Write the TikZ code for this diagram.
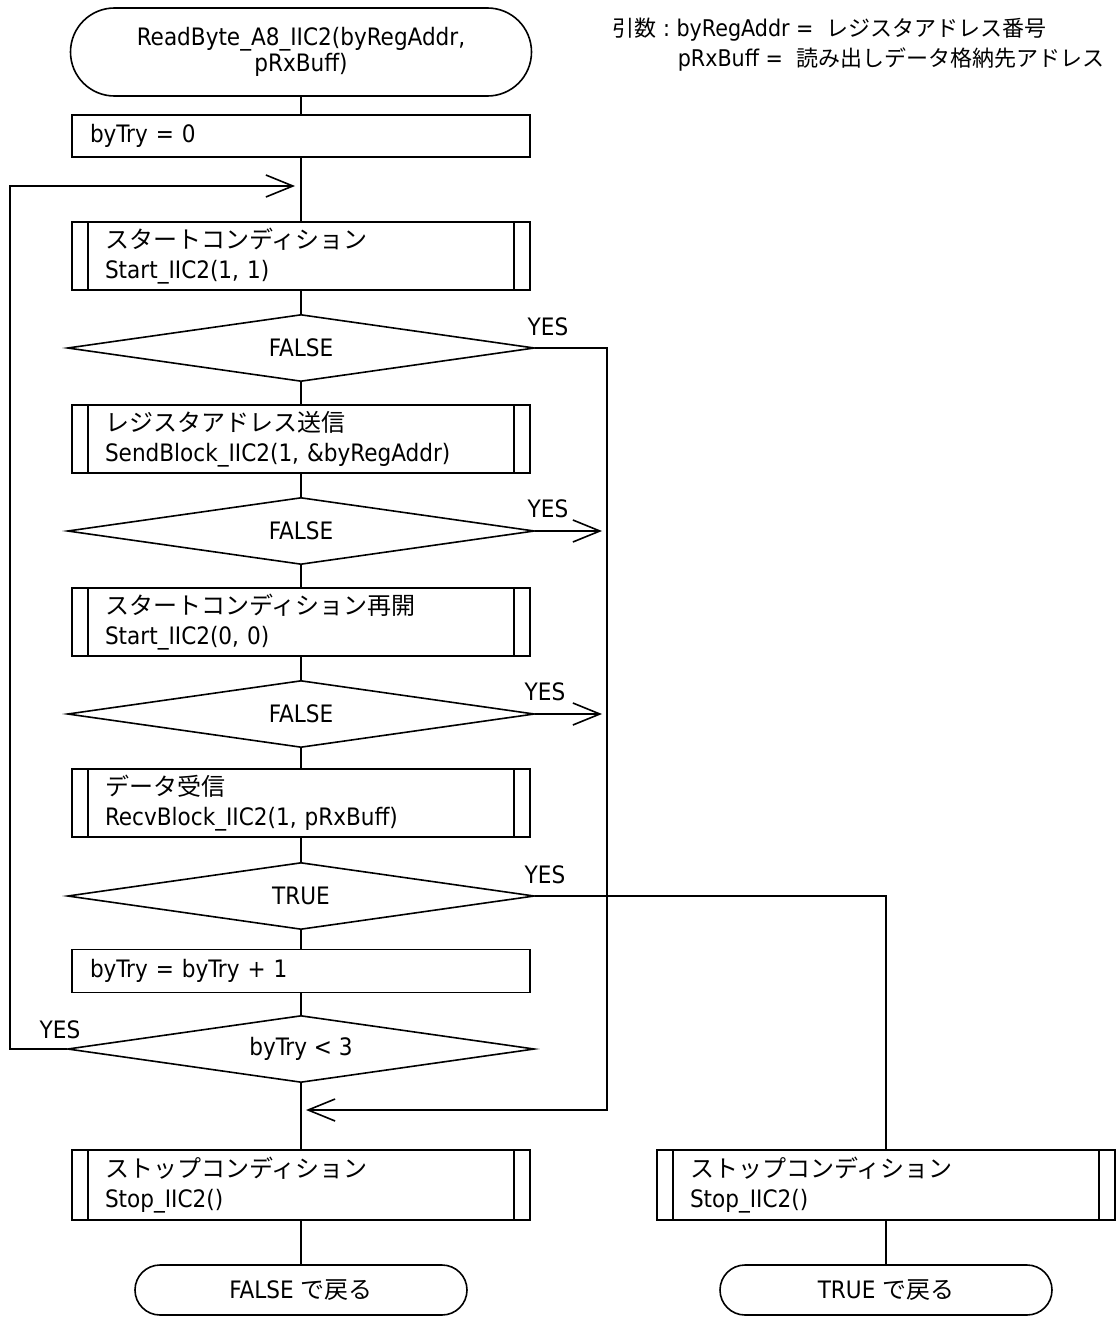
\documentclass[tikz,border=0pt]{standalone}
\usepackage{fontspec}
\setmainfont{DejaVu Sans Condensed}
\newfontfamily\jp{Noto Sans CJK JP}
\usetikzlibrary{shapes.geometric,shapes.misc,arrows.meta}
\newcommand\fsz{\fontsize{24}{26}\selectfont}
\newcommand\fszsub{\fontsize{24}{30}\selectfont}
\newcommand\fszann{\fontsize{23}{27}\selectfont}
\newcommand\annjp{\fontsize{22}{27}\selectfont\jp}
\begin{document}
\begin{tikzpicture}[x=1pt,y=-1pt,line width=1.6pt,
  base/.style={draw,line width=1.6pt,font=\fsz},
  term/.style={base,rounded rectangle,align=center,inner sep=0pt},
  proc/.style={base,rectangle,minimum height=42pt,inner xsep=18pt,inner ysep=0pt,text width=422pt,align=left},
  sub/.style={base,rectangle,minimum height=68pt,inner xsep=33pt,inner ysep=0pt,text width=392pt,align=left,font=\fszsub,
    path picture={\draw[line width=1.6pt] ([xshift=16pt]path picture bounding box.north west) -- ([xshift=16pt]path picture bounding box.south west);
      \draw[line width=1.6pt] ([xshift=-16pt]path picture bounding box.north east) -- ([xshift=-16pt]path picture bounding box.south east);}},
  dec/.style={base,diamond,aspect=8,minimum width=467pt,minimum height=67pt,inner sep=0pt},
  lbl/.style={font=\fsz,inner sep=0pt},
  ann/.style={font=\fszann,inner sep=0pt,anchor=west},
  arr/.style={-{Straight Barb[length=27pt,width=22pt]}}
]
\useasboundingbox (0,0) rectangle (1116,1317);

% annotation
\node[ann] (argA) at (612,30) {{\annjp 引数}\;:\;byRegAddr = \ {\annjp レジスタアドレス番号}};
\node[ann] (argB) at (677,60) {pRxBuff = \ {\annjp 読み出しデータ格納先アドレス}};

% main column
\node[term,minimum width=461pt,minimum height=88pt] (start) at (301,52) {ReadByte\_A8\_IIC2(byRegAddr,\\pRxBuff)};
\node[proc] (b0) at (301,136) {byTry = 0};
\node[sub] (s1) at (301,256) {{\jp スタートコンディション}\\Start\_IIC2(1, 1)};
\node[dec] (d1) at (301,348) {FALSE};
\node[sub] (s2) at (301,439) {{\jp レジスタアドレス送信}\\SendBlock\_IIC2(1, \&byRegAddr)};
\node[dec] (d2) at (301,531) {FALSE};
\node[sub] (s3) at (301,622) {{\jp スタートコンディション再開}\\Start\_IIC2(0, 0)};
\node[dec] (d3) at (301,714) {FALSE};
\node[sub] (s4) at (301,803) {{\jp データ受信}\\RecvBlock\_IIC2(1, pRxBuff)};
\node[dec] (d4) at (301,896) {TRUE};
\node[proc,minimum height=43pt] (inc) at (301,971) {byTry = byTry + 1};
\node[dec] (d5) at (301,1049) {byTry < 3};
\node[sub,minimum height=70pt] (stopL) at (301,1185) {{\jp ストップコンディション}\\Stop\_IIC2()};
\node[term,minimum width=332pt,minimum height=50pt] (endL) at (301,1290) {FALSE {\jp で戻る}};

% right column
\node[sub,minimum height=70pt] (stopR) at (886,1185) {{\jp ストップコンディション}\\Stop\_IIC2()};
\node[term,minimum width=332pt,minimum height=50pt] (endR) at (886,1290) {TRUE {\jp で戻る}};

% helper coordinates
\coordinate (lft) at (10,186);
\coordinate (rgt) at (607,1110);

% main flow
\draw (start) -- (b0);
\draw (b0) -- (s1);
\draw (s1) -- (d1);
\draw (d1) -- (s2);
\draw (s2) -- (d2);
\draw (d2) -- (s3);
\draw (s3) -- (d3);
\draw (d3) -- (s4);
\draw (s4) -- (d4);
\draw (d4) -- (inc);
\draw (inc) -- (d5);
\draw (d5) -- (stopL);
\draw (stopL) -- (endL);
\draw (stopR) -- (endR);

% YES branches
\draw[arr] (d1.east) -| (rgt) -- ([xshift=5pt]rgt -| d5.south);
\draw[arr,shorten >=5pt] (d2.east) -- (d2.east -| rgt);
\draw[arr,shorten >=5pt] (d3.east) -- (d3.east -| rgt);
\draw (d4.east) -| (stopR.north);
\draw[arr] (d5.west) -| (lft) -- ([xshift=-6pt]lft -| b0.south);

\node[lbl] (y1) at (548,327) {YES};
\node[lbl] (y2) at (548,509) {YES};
\node[lbl] (y3) at (545,692) {YES};
\node[lbl] (y4) at (545,875) {YES};
\node[lbl] (y5) at (60,1030) {YES};
\end{tikzpicture}
\end{document}
